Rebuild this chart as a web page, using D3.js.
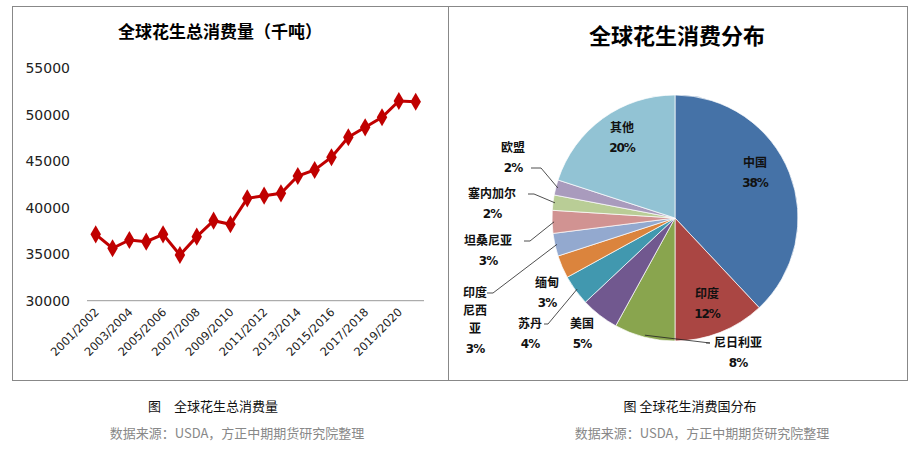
<!DOCTYPE html>
<html><head><meta charset="utf-8">
<script src="https://cdn.jsdelivr.net/npm/d3@7"></script>
<style>body{margin:0;background:#fff}</style></head>
<body><svg id="c" width="912" height="450"></svg>
<script>
const seasons=["2001/2002","2002/2003","2003/2004","2004/2005","2005/2006","2006/2007","2007/2008","2008/2009","2009/2010","2010/2011","2011/2012","2012/2013","2013/2014","2014/2015","2015/2016","2016/2017","2017/2018","2018/2019","2019/2020","2020/2021"];
const consumption=[37140,35640,36530,36350,37140,34920,36890,38610,38220,41010,41300,41550,43410,44060,45430,47580,48650,49730,51480,51400];
const yTicks=[30000,35000,40000,45000,50000,55000];
const countries=["中国","印度","尼日利亚","美国","苏丹","缅甸","印度尼西亚","坦桑尼亚","塞内加尔","欧盟","其他"];
const shares=[38,12,8,5,4,3,3,3,2,2,20];
const colors=["#4572A7","#AA4643","#89A54E","#71588F","#4198AF","#DB843D","#93A9CF","#D19392","#B9CD96","#A99BBD","#92C3D4"];
// label layout: [x,y,lines, leader?]
const labelPos=[[755,167,["中国"],0],[707,298,["印度"],0],[738,347,["尼日利亚"],1],[582,328,["美国"],0],[530,328,["苏丹"],1],[547,287,["缅甸"],0],[475,297,["印度","尼西","亚"],1],[488,245,["坦桑尼亚"],1],[492,198,["塞内加尔"],1],[513,152,["欧盟"],1],[622,132,["其他"],0]];

const svg=d3.select("#c");
const F="'Noto Sans CJK SC',sans-serif";
// frames
svg.append("rect").attr("x",12.5).attr("y",6.5).attr("width",895).attr("height",374).attr("fill","none").attr("stroke","#888");
svg.append("line").attr("x1",448.5).attr("x2",448.5).attr("y1",6).attr("y2",381).attr("stroke","#888");

// line chart
svg.append("text").attr("x",220).attr("y",38).attr("text-anchor","middle").attr("font-family",F).attr("font-weight","bold").attr("font-size",17).text("全球花生总消费量（千吨）");
const x=d3.scalePoint().domain(seasons).range([95.7,415.7]);
const y=d3.scaleLinear().domain([30000,55000]).range([300.7,68.3]);
const g=svg.append("g");
g.append("line").attr("x1",87).attr("x2",424).attr("y1",y(30000)).attr("y2",y(30000)).attr("stroke","#999");
g.selectAll(".yt").data(yTicks).join("text").attr("x",70).attr("y",d=>y(d)+5).attr("text-anchor","end").attr("font-family","DejaVu Sans").attr("font-size",14).attr("fill","#222").text(d=>d);
g.selectAll(".xt").data(seasons.filter((d,i)=>i%2==0)).join("text")
 .attr("transform",d=>`translate(${x(d)+4},${y(30000)+12}) rotate(-45)`).attr("text-anchor","end")
 .attr("font-family","DejaVu Sans").attr("font-size",11.5).attr("fill","#222").text(d=>d);
const line=d3.line().x((d,i)=>x(seasons[i])).y(d=>y(d));
g.append("path").datum(consumption).attr("d",line).attr("fill","none").attr("stroke","#C00000").attr("stroke-width",3);
g.selectAll(".pt").data(consumption).join("path").attr("d",d3.symbol(d3.symbolDiamond,95)())
 .attr("transform",(d,i)=>`translate(${x(seasons[i])},${y(d)})`).attr("fill","#C00000");

// pie
svg.append("text").attr("x",677).attr("y",44).attr("text-anchor","middle").attr("font-family",F).attr("font-weight","bold").attr("font-size",22).text("全球花生消费分布");
const cx=675,cy=218,R=123;
const pie=d3.pie().sort(null).value(d=>d);
const arcs=pie(shares);
const arc=d3.arc().innerRadius(0).outerRadius(R);
const pg=svg.append("g").attr("transform",`translate(${cx},${cy})`);
pg.selectAll("path").data(arcs).join("path").attr("d",arc).attr("fill",(d,i)=>colors[i]).attr("stroke","#fff").attr("stroke-width",0.7);
const lg=svg.append("g");
arcs.forEach((a,i)=>{
  const [lx,ly,lines,lead]=labelPos[i];
  const t=lg.append("text").attr("text-anchor","middle").attr("font-family",F).attr("font-weight","bold").attr("font-size",12).attr("fill","#111");
  lines.forEach((s,k)=>t.append("tspan").attr("x",lx).attr("y",ly+k*18).text(s));
  lg.append("text").attr("x",lx).attr("y",ly+lines.length*18+2).attr("text-anchor","middle").attr("font-family","DejaVu Sans").attr("font-weight","bold").attr("font-size",12).attr("letter-spacing",-1).attr("fill","#111").text(shares[i]+"%");
  if(lead){
    const m=(a.startAngle+a.endAngle)/2;
    const sx=cx+Math.sin(m)*(R-2), sy=cy-Math.cos(m)*(R-2);
    let pts;
    if(i==2) pts=[[sx,sy],[lx-28,ly-4],[lx-32,ly-4]];
    else if(i==4) pts=[[sx,sy],[lx+18,ly-4],[lx+14,ly-4]];
    else if(i==6) pts=[[sx,sy],[lx+18,ly-4],[lx+12,ly-4]];
    else if(i==7) pts=[[sx,sy],[lx+42,ly-4],[lx+36,ly-4]];
    else pts=[[sx,sy],[lx+40,ly-4],[lx+34,ly-4]];
    if(i==9) pts=[[sx,sy],[lx+28,ly+16],[lx+18,ly+16]];
    if(i==8) pts=[[sx,sy],[lx+42,ly-4],[lx+36,ly-4]];
    lg.append("path").attr("d",d3.line()(pts)).attr("fill","none").attr("stroke","#222").attr("stroke-width",0.8);
  }
});

// captions
const cap=(x0,y0,s,c,sz)=>svg.append("text").attr("x",x0).attr("y",y0).attr("text-anchor","middle").attr("font-family",F).attr("font-size",sz).attr("fill",c).text(s);
cap(213,411,"图　全球花生总消费量","#111",13);
cap(237,438,"数据来源：USDA，方正中期期货研究院整理","#888",13);
cap(690,411,"图 全球花生消费国分布","#111",13);
cap(702,438,"数据来源：USDA，方正中期期货研究院整理","#888",13);
</script></body></html>
